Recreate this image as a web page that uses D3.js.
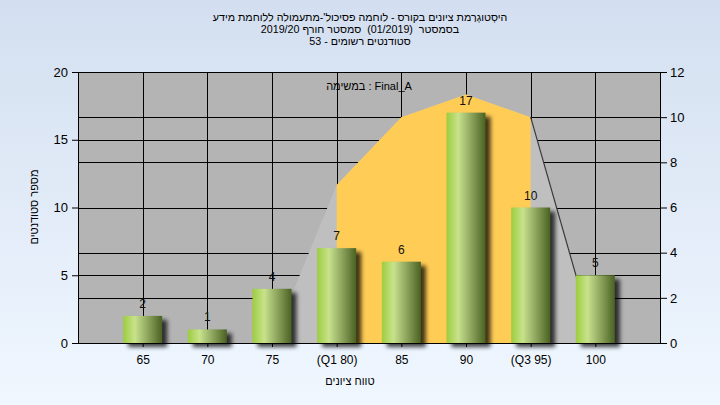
<!DOCTYPE html>
<html><head><meta charset="utf-8">
<script src="https://cdn.jsdelivr.net/npm/d3@7"></script>
<style>body{margin:0;background:#fff;} svg{display:block;font-family:"Liberation Sans",Arial,"DejaVu Sans",sans-serif;} .pre{white-space:pre;}</style>
</head><body><svg id="c" width="720" height="405"></svg>
<script>
const categories = ["65","70","75","(Q1 80)","85","90","(Q3 95)","100"];
const counts = [2,1,4,7,6,17,10,5];
const curve = [0,0,0,7,10,11,10,0];
const leftTicks = [0,5,10,15,20];
const rightTicks = [0,2,4,6,8,10,12];
const q1Index = 3, q3Index = 6;
const titleLine1 = "היסְטוגְרַמת ציונים בקורס - לוחמה פסיכול'-מתעמולה ללוחמת מידע";
const titleLine2 = "בסמסטר  (01/2019)  סמסטר חורף 2019/20";
const titleLine3 = "סטודנטים רשומים - 53";
const seriesLabel = "במשימה : Final_A";
const xTitle = "טווח ציונים";
const yTitle = "מספר סטודנטים";

const W = 720, H = 405;
const svg = d3.select("#c");
const defs = svg.append("defs");
const bg = defs.append("linearGradient").attr("id","bg").attr("x1",0).attr("y1",0).attr("x2",0).attr("y2",1);
bg.append("stop").attr("offset","0%").attr("stop-color","#d3dff0");
bg.append("stop").attr("offset","100%").attr("stop-color","#f0f7ff");
const bar = defs.append("linearGradient").attr("id","bar").attr("x1",0).attr("y1",0).attr("x2",1).attr("y2",0);
[["0%","#9ccd3e"],["30%","#c8e28c"],["55%","#9cb46a"],["100%","#4a6222"]].forEach(s=>bar.append("stop").attr("offset",s[0]).attr("stop-color",s[1]));
defs.append("filter").attr("id","blur").attr("x","-50%").attr("y","-50%").attr("width","200%").attr("height","200%")
  .append("feGaussianBlur").attr("stdDeviation",2);

svg.append("rect").attr("width",W).attr("height",H).attr("fill","url(#bg)");

const m = {l:78, r:660, t:72, b:343};
const x = d3.scaleLinear().domain([0, categories.length + 1]).range([m.l, m.r]);
const yL = d3.scaleLinear().domain([0, 20]).range([m.b, m.t]);
const yR = d3.scaleLinear().domain([0, 12]).range([m.b, m.t]);
const cx = i => x(i + 1);

svg.append("rect").attr("x",m.l).attr("y",m.t).attr("width",m.r-m.l).attr("height",m.b-m.t).attr("fill","#b4b4b4");

// grid
const grid = svg.append("g").attr("stroke","#000").attr("stroke-width",1).attr("shape-rendering","crispEdges");
const hy = leftTicks.map(v=>yL(v)).concat(rightTicks.map(v=>yR(v)));
grid.selectAll("line.h").data(hy).join("line").attr("class","h")
  .attr("x1",m.l).attr("x2",m.r).attr("y1",d=>Math.round(d)+0.5).attr("y2",d=>Math.round(d)+0.5);
grid.selectAll("line.v").data(categories).join("line").attr("class","v")
  .attr("x1",(d,i)=>Math.round(cx(i))+0.5).attr("x2",(d,i)=>Math.round(cx(i))+0.5).attr("y1",m.t).attr("y2",m.b);

// area
const area = d3.area().x((d,i)=>cx(i)).y0(yR(0)).y1(d=>yR(d));
svg.append("path").datum(curve).attr("d",area).attr("fill","#bfbfbf");
defs.append("clipPath").attr("id","qclip").append("rect")
  .attr("x",cx(q1Index)).attr("y",m.t).attr("width",cx(q3Index)-cx(q1Index)).attr("height",m.b-m.t);
svg.append("path").datum(curve).attr("d",area).attr("fill","#ffcc55").attr("clip-path","url(#qclip)");
svg.append("line").attr("x1",cx(q3Index)).attr("y1",yR(curve[q3Index])).attr("x2",cx(q3Index+1)).attr("y2",yR(curve[q3Index+1]))
  .attr("stroke","#3a3a3a").attr("stroke-width",1.2);

// bars
const bw = 39;
const bars = svg.append("g");
bars.selectAll("rect.s").data(counts).join("rect").attr("class","s")
  .attr("x",(d,i)=>cx(i)-bw/2+5).attr("y",d=>yL(d)+4).attr("width",bw).attr("height",d=>yL(0)-yL(d))
  .attr("fill","#000").attr("opacity",0.75).attr("filter","url(#blur)");
bars.selectAll("rect.b").data(counts).join("rect").attr("class","b")
  .attr("x",(d,i)=>cx(i)-bw/2).attr("y",d=>yL(d)).attr("width",bw).attr("height",d=>yL(0)-yL(d))
  .attr("fill","url(#bar)");
bars.selectAll("text").data(counts).join("text")
  .attr("x",(d,i)=>cx(i)).attr("y",d=>yL(d)-8).attr("text-anchor","middle")
  .attr("font-size",12).attr("fill","#111").text(d=>d);

// axes
const styleAxis = g => { g.selectAll("path,line").attr("stroke","#000"); g.selectAll("text").attr("fill","#000"); };
svg.append("g").attr("transform",`translate(${m.l},0)`)
  .call(d3.axisLeft(yL).tickValues(leftTicks).tickSize(6).tickSizeOuter(0).tickPadding(4))
  .call(g=>g.selectAll("text").attr("font-size",13).attr("font-family",null)).call(styleAxis);
svg.append("g").attr("transform",`translate(${m.r},0)`)
  .call(d3.axisRight(yR).tickValues(rightTicks).tickSize(7).tickSizeOuter(0).tickPadding(3))
  .call(g=>g.selectAll("text").attr("font-size",13).attr("font-family",null)).call(styleAxis);
svg.append("g").attr("transform",`translate(0,${m.b})`)
  .call(d3.axisBottom(x).tickValues(d3.range(1,categories.length+1)).tickFormat(i=>categories[i-1]).tickSize(4).tickSizeOuter(0).tickPadding(8))
  .call(g=>g.selectAll("text").attr("font-size",12).attr("font-family",null)).call(styleAxis);

// texts
const t = svg.append("g").attr("fill","#000").attr("text-anchor","middle").attr("font-size",10.7);
t.append("text").attr("x",360).attr("y",21).attr("direction","rtl").attr("unicode-bidi","embed").text(titleLine1);
t.append("text").attr("class","pre").attr("x",360).attr("y",33).attr("direction","rtl").attr("unicode-bidi","embed").text(titleLine2);
t.append("text").attr("x",360).attr("y",45).attr("direction","rtl").attr("unicode-bidi","embed").text(titleLine3);
t.append("text").attr("x",369).attr("y",90).attr("font-size",11).attr("direction","ltr").text(seriesLabel);
t.append("text").attr("x",350).attr("y",385).attr("font-size",11).attr("direction","rtl").attr("unicode-bidi","embed").text(xTitle);
t.append("text").attr("transform","translate(38,207) rotate(-90)").attr("font-size",11).attr("direction","rtl").attr("unicode-bidi","embed").text(yTitle);
</script></body></html>
